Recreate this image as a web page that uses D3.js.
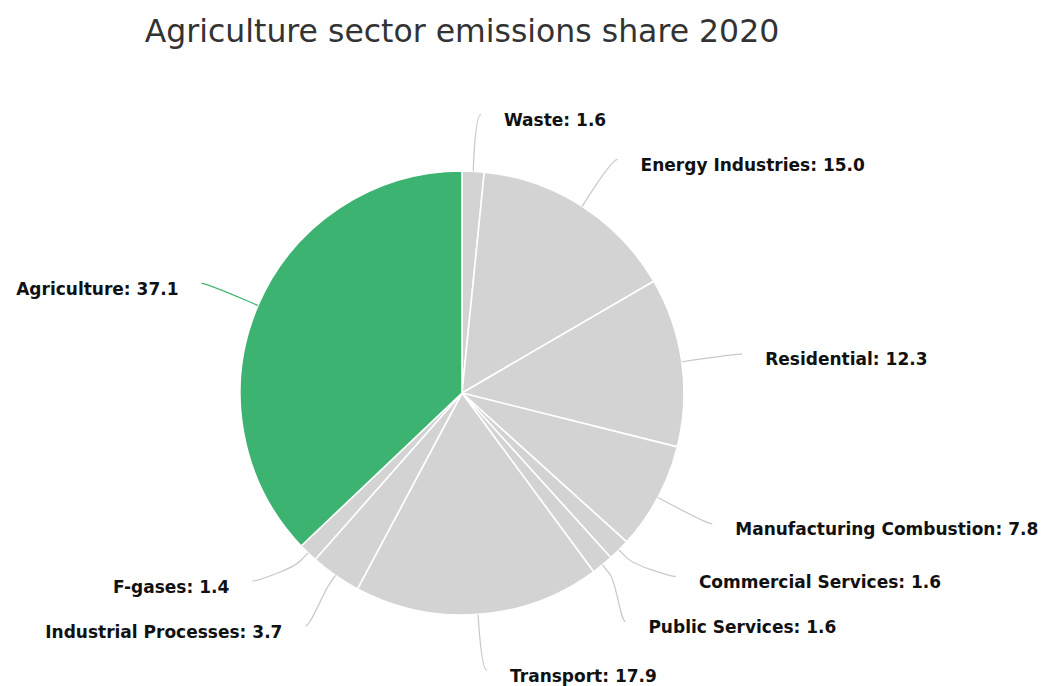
<!DOCTYPE html>
<html>
<head>
<meta charset="utf-8">
<script src="https://cdn.jsdelivr.net/npm/d3@7"></script>
<style>
  html, body { margin: 0; padding: 0; background: #ffffff; }
  svg { display: block; }
</style>
</head>
<body>
<svg id="chart" width="1051" height="686"></svg>
<script>
// Emissions share by sector, 2020 (%)
const categories = [
  "Waste", "Energy Industries", "Residential", "Manufacturing Combustion",
  "Commercial Services", "Public Services", "Transport",
  "Industrial Processes", "F-gases", "Agriculture"
];
const values = [1.6, 15.0, 12.3, 7.8, 1.6, 1.6, 17.9, 3.7, 1.4, 37.1];
const highlighted = "Agriculture";
const titleText = "Agriculture sector emissions share 2020";

const width = 1051, height = 686;
const cx = 462, cy = 393, radius = 222;
const labelDistance = 56;
const minLabelGap = 45;

const colorFor = name => name === highlighted ? "#3cb371" : "#d3d3d3";

const svg = d3.select("#chart");

svg.append("text")
  .attr("x", cx)
  .attr("y", 42)
  .attr("text-anchor", "middle")
  .attr("fill", "#333333")
  .style("font-family", "'DejaVu Sans', sans-serif")
  .style("font-size", "31.5px")
  .text(titleText);

const data = categories.map((name, i) => ({ name, value: values[i] }));
const pie = d3.pie().sort(null).value(d => d.value);
const arcs = pie(data);
const arcGen = d3.arc().innerRadius(0).outerRadius(radius);

const g = svg.append("g").attr("transform", `translate(${cx},${cy})`);

g.selectAll("path.slice")
  .data(arcs)
  .join("path")
  .attr("class", "slice")
  .attr("d", arcGen)
  .attr("fill", d => colorFor(d.data.name))
  .attr("stroke", "#ffffff")
  .attr("stroke-width", 1.6)
  .attr("stroke-linejoin", "round");

// Label layout: natural position on an outer circle, then spread apart per side
const R = radius + labelDistance;
const labels = arcs.map(a => {
  const ang = (a.startAngle + a.endAngle) / 2;
  return {
    arc: a,
    ang,
    right: Math.sin(ang) >= 0,
    y: -R * Math.cos(ang),
    w: a.data.value
  };
});

[true, false].forEach(side => {
  const list = labels.filter(l => l.right === side).sort((p, q) => p.y - q.y);
  for (let iter = 0; iter < 100; iter++) {
    let moved = false;
    for (let i = 0; i < list.length - 1; i++) {
      const a = list[i], b = list[i + 1];
      const gap = b.y - a.y;
      if (gap < minLabelGap - 0.01) {
        const overlap = minLabelGap - gap;
        const tot = a.w + b.w;
        a.y -= overlap * b.w / tot;
        b.y += overlap * a.w / tot;
        moved = true;
      }
    }
    if (!moved) break;
  }
});

labels.forEach(l => {
  const s = l.right ? 1 : -1;
  // x on the outer circle for the final y; labels near the top and bottom keep their natural x
  const circleX = Math.sqrt(Math.max(R * R - l.y * l.y, 0));
  const naturalX = Math.abs(R * Math.sin(l.ang));
  const nearPole = Math.abs(Math.cos(l.ang)) > 0.95;
  l.x = s * ((nearPole ? Math.max(circleX, naturalX) : circleX) + 5);
  const touch = [radius * Math.sin(l.ang), -radius * Math.cos(l.ang)];
  const brk = [(radius + labelDistance / 5) * Math.sin(l.ang), -(radius + labelDistance / 5) * Math.cos(l.ang)];
  const cp2 = [2 * brk[0] - touch[0], 2 * brk[1] - touch[1]];
  const p = d3.path();
  p.moveTo(l.x, l.y);
  p.bezierCurveTo(l.x - s * 5, l.y, cp2[0], cp2[1], brk[0], brk[1]);
  p.lineTo(touch[0], touch[1]);
  l.path = p.toString();
});

g.selectAll("path.connector")
  .data(labels)
  .join("path")
  .attr("class", "connector")
  .attr("d", d => d.path)
  .attr("fill", "none")
  .attr("stroke", d => d.arc.data.name === highlighted ? "#3cb371" : "#c8c8c8")
  .attr("stroke-width", 1.2);

g.selectAll("text.label")
  .data(labels)
  .join("text")
  .attr("class", "label")
  .attr("x", d => d.x + (d.right ? 23 : -23))
  .attr("y", d => d.y + 11.5)
  .attr("text-anchor", d => d.right ? "start" : "end")
  .attr("fill", "#111111")
  .style("font-family", "'DejaVu Sans', sans-serif")
  .style("font-weight", "bold")
  .style("font-size", "17px")
  .text(d => `${d.arc.data.name}: ${d3.format(".1f")(d.arc.data.value)}`);
</script>
</body>
</html>
